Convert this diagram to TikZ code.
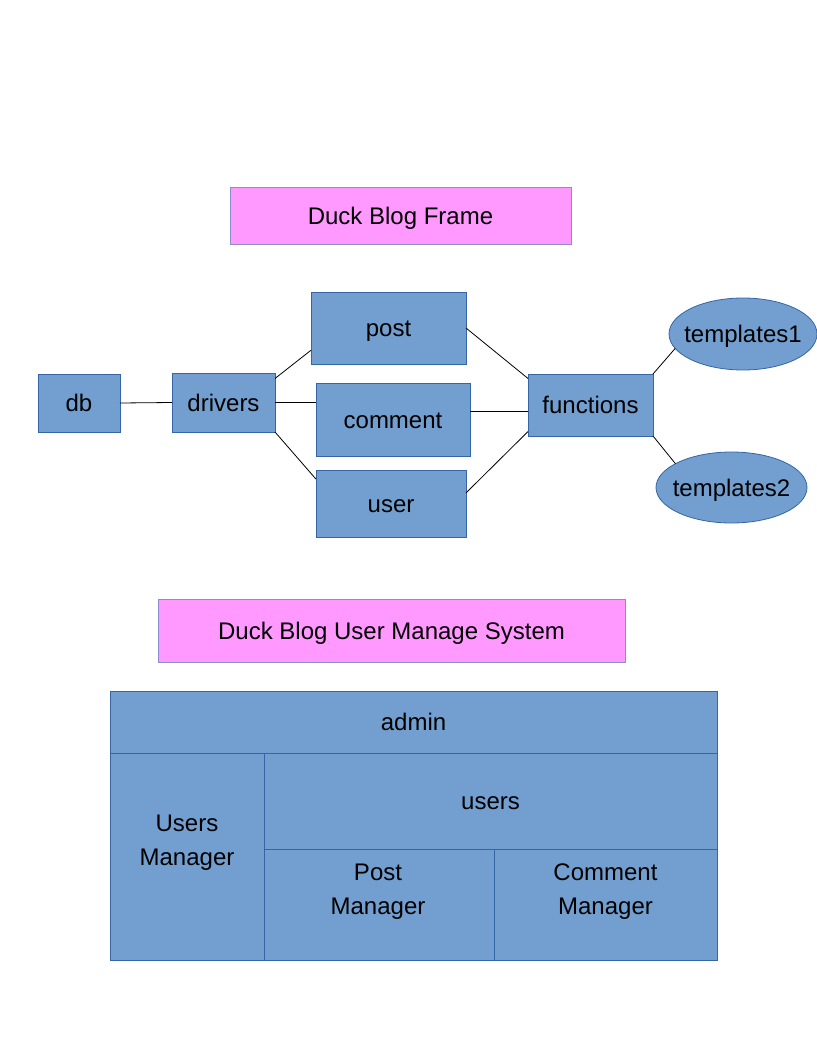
\documentclass[tikz,border=0pt]{standalone}
\usepackage{fontspec}
\setmainfont{Liberation Sans}
\definecolor{boxblue}{HTML}{729FCF}
\definecolor{lineblue}{HTML}{3465A4}
\definecolor{titlepink}{HTML}{FF99FF}
\definecolor{titleline}{HTML}{8C8CCC}
\usetikzlibrary{shapes.geometric}

\begin{document}
\begin{tikzpicture}[x=1pt,y=-1pt,
  every node/.style={font=\fontsize{24}{34}\selectfont,inner sep=0pt,outer sep=0pt},
  oneline/.style={text height=17.5pt,text depth=0pt},
  box/.style={oneline,draw=lineblue,fill=boxblue,line width=0.8pt},
  oval/.style={oneline,ellipse,inner xsep=-7pt,draw=lineblue,fill=boxblue,line width=0.8pt},
  titlebox/.style={oneline,draw=titleline,fill=titlepink,line width=0.8pt},
  link/.style={black,line width=0.8pt}]
  \useasboundingbox (0,0) rectangle (816,1056);

  \node[titlebox,minimum width=341pt,minimum height=57pt] (frame)	at (400.5,215.5)	{Duck Blog Frame};

  \node[box,minimum width=82pt,minimum height=58pt] (db)	at (79,403)	{db};
  \node[box,minimum width=103pt,minimum height=59pt] (drivers)	at (223.5,402.5)	{drivers};

  \node[box,minimum width=155pt,minimum height=72pt] (post)	at (388.5,328)	{post};
  \node[box,minimum width=154pt,minimum height=73pt] (comment)	at (393,419.5)	{comment};
  \node[box,minimum width=150pt,minimum height=67pt] (user)	at (391,503.5)	{user};

  \node[box,minimum width=125pt,minimum height=62pt] (functions)	at (590.5,405)	{functions};

  \node[oval,minimum width=148pt,minimum height=72pt] (templates1)	at (743,334)	{templates1};
  \node[oval,minimum width=151pt,minimum height=71pt] (templates2)	at (731.5,487.5)	{templates2};

  \draw[link] (db.east) -- (drivers.west);
  \draw[link] (drivers.25) -- (post.196);
  \draw[link] (drivers.east) -- (drivers.east -| comment.west);
  \draw[link] (drivers.south east) -- (user.162);

  \draw[link] (post.east) -- (functions.157);
  \draw[link] (comment.6) -- (functions.186);
  \draw[link] (user.8) -- (functions.203);

  \draw[link] (functions.north east) -- (templates1.192);
  \draw[link] (functions.south east) -- (templates2.157);

  \node[titlebox,minimum width=467pt,minimum height=63pt] (system)	at (391.5,630.5)	{Duck Blog User Manage System};

  % the manage system table
  \fill[boxblue] (110,691) rectangle (717,960);
  \draw[lineblue,line width=0.8pt] (110,691) rectangle (717,960);
  \draw[lineblue,line width=0.8pt] (110,753) -- (717,753);
  \draw[lineblue,line width=0.8pt] (264,753) -- (264,960);
  \draw[lineblue,line width=0.8pt] (264,849) -- (717,849);
  \draw[lineblue,line width=0.8pt] (494,849) -- (494,960);

  \node[oneline] (admin)	at (413.5,722)	{admin};
  \node[align=center] (users-manager)	at (187,843)	{Users\\Manager};
  \node[oneline] (users)	at (490.5,801)	{users};
  \node[align=center] (post-manager)	at (378,892)	{Post\\Manager};
  \node[align=center] (comment-manager)	at (605.5,892)	{Comment\\Manager};
\end{tikzpicture}
\end{document}
